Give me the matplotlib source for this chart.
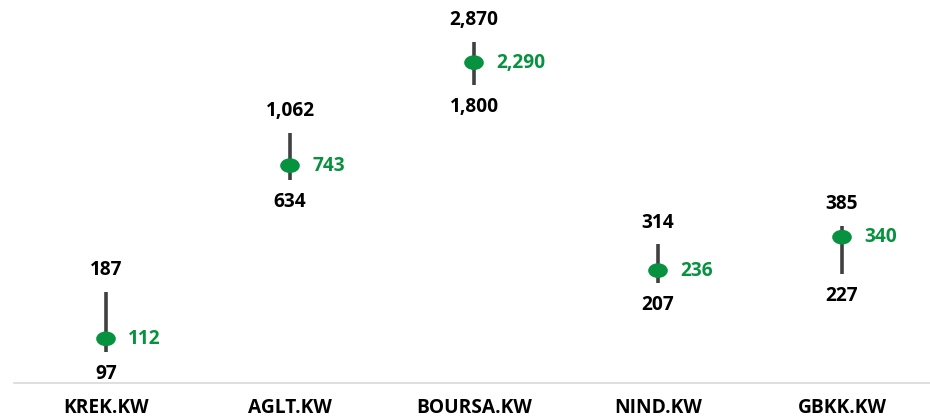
import matplotlib.pyplot as plt
from matplotlib.ticker import NullLocator
from matplotlib.path import Path
from matplotlib.transforms import Affine2D

tickers = ['KREK.KW', 'AGLT.KW', 'BOURSA.KW', 'NIND.KW', 'GBKK.KW']
high = [187, 1062, 2870, 314, 385]
low = [97, 634, 1800, 207, 227]
current = [112, 743, 2290, 236, 340]

green = '#07923f'
plt.rcParams['font.family'] = ['Open Sans', 'DejaVu Sans']

fig = plt.figure(figsize=(9.3, 4.19), dpi=100)
ax = fig.add_axes([14/930, 36/419, 920/930, 383/419])
ax.set_yscale('log')
ax.set_ylim(69.1, 4541)
ax.set_xlim(-0.5, 4.5)

# wide oval marker
oval = Path.unit_circle().transformed(Affine2D().scale(1.0, 0.75))

x = list(range(len(tickers)))
ax.vlines(x, low, high, color='#404040', linewidth=2.6, zorder=2)
ax.scatter(x, current, s=200, marker=oval, color=green, zorder=3,
           edgecolors='none')
fs = 13.8
for i in x:
    ax.annotate(f'{high[i]:,}', (i, high[i]), xytext=(0, 15.5), textcoords='offset points',
                ha='center', va='center', fontsize=fs, fontweight='bold', color='black')
    ax.annotate(f'{low[i]:,}', (i, low[i]), xytext=(0, -16), textcoords='offset points',
                ha='center', va='center', fontsize=fs, fontweight='bold', color='black')
    ax.annotate(f'{current[i]:,}', (i, current[i]), xytext=(16, 0), textcoords='offset points',
                ha='left', va='center', fontsize=fs, fontweight='bold', color=green)

ax.set_xticks(x)
ax.set_xticklabels(tickers, fontsize=fs, fontweight='bold')
ax.tick_params(axis='x', length=0, pad=10.5)
ax.yaxis.set_major_locator(NullLocator())
ax.yaxis.set_minor_locator(NullLocator())
for s in ['top', 'left', 'right']:
    ax.spines[s].set_visible(False)
ax.spines['bottom'].set_color('#d9d9d9')
ax.spines['bottom'].set_linewidth(1.2)

fig.savefig('out.png', dpi=100)
